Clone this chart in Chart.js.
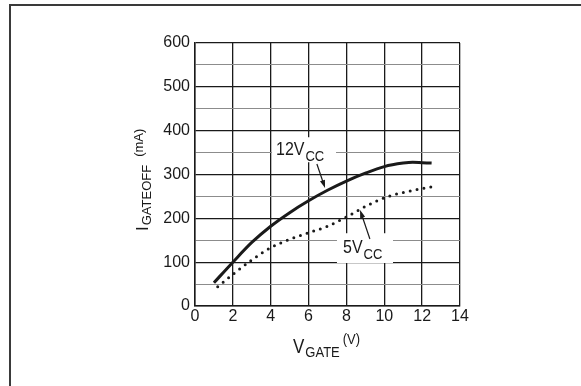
<!DOCTYPE html>
<html>
<head>
<meta charset="utf-8">
<script src="https://cdn.jsdelivr.net/npm/chart.js@4.4.1/dist/chart.umd.min.js"></script>
<style>
  html, body { margin: 0; padding: 0; background: #fff; }
  #wrap { width: 581px; height: 386px; }
</style>
</head>
<body>
<div id="wrap"><canvas id="c" width="581" height="386"></canvas></div>
<script>
// Gate turn-off current versus gate voltage, two supply voltages
const vGate12 = [1, 2, 3, 4, 5, 6, 7, 8, 9, 10, 11, 11.5, 12, 12.5];
const iOff12  = [53, 100, 145, 182, 213, 240, 264, 285, 303, 318, 326, 328, 327, 326];

const vGate5 = [1.2, 2, 3, 4, 5, 6, 7, 8, 9, 10, 11, 12, 12.5];
const iOff5  = [44, 72, 105, 133, 152, 167, 182, 203, 227, 247, 259, 268, 272];

const xTicks = [0, 2, 4, 6, 8, 10, 12, 14];
const yTicks = [0, 100, 200, 300, 400, 500, 600];

const FONT = "'Liberation Sans', Arial, Helvetica, sans-serif";
const INK = '#1a1a1a';

function pts(xs, ys) { return xs.map((x, i) => ({ x: x, y: ys[i] })); }

// draws a run of text pieces, each with its own size and baseline shift;
// tall = vertical stretch of the glyphs about their baseline
function drawRich(ctx, x, y, parts, tall) {
  let cx = x;
  parts.forEach(p => {
    cx += p.gap || 0;
    ctx.font = p.size + 'px ' + FONT;
    ctx.save();
    ctx.translate(cx, y + (p.dy || 0));
    ctx.scale(1, tall || 1);
    ctx.fillText(p.t, 0, 0);
    ctx.restore();
    cx += ctx.measureText(p.t).width;
  });
}

function arrow(ctx, x1, y1, x2, y2) {
  const a = Math.atan2(y2 - y1, x2 - x1);
  const len = 8, half = 2.6;
  ctx.beginPath();
  ctx.moveTo(x1, y1);
  ctx.lineTo(x2 - Math.cos(a) * len * 0.8, y2 - Math.sin(a) * len * 0.8);
  ctx.stroke();
  ctx.beginPath();
  ctx.moveTo(x2, y2);
  ctx.lineTo(x2 - Math.cos(a) * len - Math.sin(a) * half, y2 - Math.sin(a) * len + Math.cos(a) * half);
  ctx.lineTo(x2 - Math.cos(a) * len + Math.sin(a) * half, y2 - Math.sin(a) * len - Math.cos(a) * half);
  ctx.closePath();
  ctx.fill();
}

// curve callouts, placed in data units
const callouts = [
  { main: '12V', sub: 'CC', box: [4.07, 385, 7.45, 328], text: [4.28, 344], from: [6.44, 324], to: [6.87, 269] },
  { main: '5V',  sub: 'CC', box: [7.50, 166, 10.46, 98], text: [7.82, 121], from: [9.24, 153], to: [8.72, 219] }
];

const framePlugin = {
  id: 'frame',
  beforeDraw(chart) {
    const ctx = chart.ctx;
    ctx.save();
    ctx.fillStyle = '#fff';
    ctx.fillRect(0, 0, chart.width, chart.height);
    ctx.strokeStyle = '#3a3a3a';
    ctx.lineWidth = 2;
    ctx.beginPath();
    ctx.moveTo(10, chart.height);
    ctx.lineTo(10, 5);
    ctx.lineTo(chart.width, 5);
    ctx.stroke();
    ctx.restore();
  }
};

const calloutPlugin = {
  id: 'callouts',
  beforeDatasetsDraw(chart) {
    const ctx = chart.ctx, xs = chart.scales.x, ys = chart.scales.y;
    ctx.save();
    callouts.forEach(c => {
      const x1 = xs.getPixelForValue(c.box[0]), y1 = ys.getPixelForValue(c.box[1]);
      const x2 = xs.getPixelForValue(c.box[2]), y2 = ys.getPixelForValue(c.box[3]);
      ctx.fillStyle = '#fff';
      ctx.fillRect(x1, y1, x2 - x1, y2 - y1);
    });
    ctx.restore();
  },
  afterDatasetsDraw(chart) {
    const ctx = chart.ctx, xs = chart.scales.x, ys = chart.scales.y;
    ctx.save();
    ctx.fillStyle = INK;
    ctx.strokeStyle = INK;
    ctx.lineWidth = 1.2;
    ctx.textBaseline = 'alphabetic';
    callouts.forEach(c => {
      const tx = xs.getPixelForValue(c.text[0]), ty = ys.getPixelForValue(c.text[1]);
      drawRich(ctx, tx, ty, [
        { t: c.main, size: 16 },
        { t: c.sub, size: 13, dy: 6, gap: 1 }
      ], 1.15);
      arrow(ctx,
        xs.getPixelForValue(c.from[0]), ys.getPixelForValue(c.from[1]),
        xs.getPixelForValue(c.to[0]), ys.getPixelForValue(c.to[1]));
    });
    ctx.restore();
  },
  afterDraw(chart) {
    const ctx = chart.ctx, area = chart.chartArea;
    ctx.save();
    ctx.fillStyle = INK;
    ctx.textBaseline = 'alphabetic';
    // x axis title: V_GATE (V)
    drawRich(ctx, area.left + 98, area.bottom + 47, [
      { t: 'V', size: 17 },
      { t: 'GATE', size: 13, dy: 4, gap: 1 },
      { t: '(V)', size: 13, dy: -9, gap: 3 }
    ], 1.15);
    // y axis title: I_GATEOFF (mA), reading upward
    ctx.translate(area.left - 47, area.top + 188);
    ctx.rotate(-Math.PI / 2);
    drawRich(ctx, 0, 0, [
      { t: 'I', size: 17 },
      { t: 'GATEOFF', size: 13, dy: 3, gap: 1 },
      { t: '(mA)', size: 13, dy: -5, gap: 8 }
    ]);
    ctx.restore();
  }
};

new Chart(document.getElementById('c'), {
  type: 'scatter',
  data: {
    datasets: [
      {
        label: '12V CC',
        data: pts(vGate12, iOff12),
        showLine: true,
        borderColor: INK,
        borderWidth: 3,
        pointRadius: 0,
        tension: 0.4,
        cubicInterpolationMode: 'monotone',
        fill: false
      },
      {
        label: '5V CC',
        data: pts(vGate5, iOff5),
        showLine: true,
        borderColor: INK,
        borderWidth: 3,
        borderDash: [0, 7],
        borderCapStyle: 'round',
        pointRadius: 0,
        tension: 0.4,
        cubicInterpolationMode: 'monotone',
        fill: false
      }
    ]
  },
  options: {
    responsive: false,
    animation: false,
    devicePixelRatio: 1,
    events: [],
    layout: { padding: { left: 150, top: 43, right: 121, bottom: 0 } },
    plugins: { legend: { display: false }, tooltip: { enabled: false } },
    scales: {
      x: {
        type: 'linear',
        min: xTicks[0],
        max: xTicks[xTicks.length - 1],
        afterFit(scale) { scale.height = 80; },
        afterBuildTicks(scale) { scale.ticks = xTicks.map(v => ({ value: v })); },
        ticks: { color: INK, padding: 1, autoSkip: false, maxRotation: 0, font: { family: FONT, size: 16 } },
        grid: { color: INK, lineWidth: 1.3, drawTicks: false },
        border: { display: true, color: INK, width: 1.5 }
      },
      y: {
        type: 'linear',
        min: yTicks[0],
        max: yTicks[yTicks.length - 1],
        afterFit(scale) { scale.width = 45; },
        ticks: {
          stepSize: 50,
          autoSkip: false,
          color: INK,
          padding: 5,
          font: { family: FONT, size: 16 },
          callback: v => (yTicks.includes(v) ? v : '')
        },
        grid: {
          drawTicks: false,
          color: c => (c.tick && c.tick.value % 100 === 0 ? INK : '#8c8c8c'),
          lineWidth: c => (c.tick && c.tick.value % 100 === 0 ? 1.3 : 1)
        },
        border: { display: true, color: INK, width: 1.5 }
      }
    }
  },
  plugins: [framePlugin, calloutPlugin]
});
</script>
</body>
</html>
